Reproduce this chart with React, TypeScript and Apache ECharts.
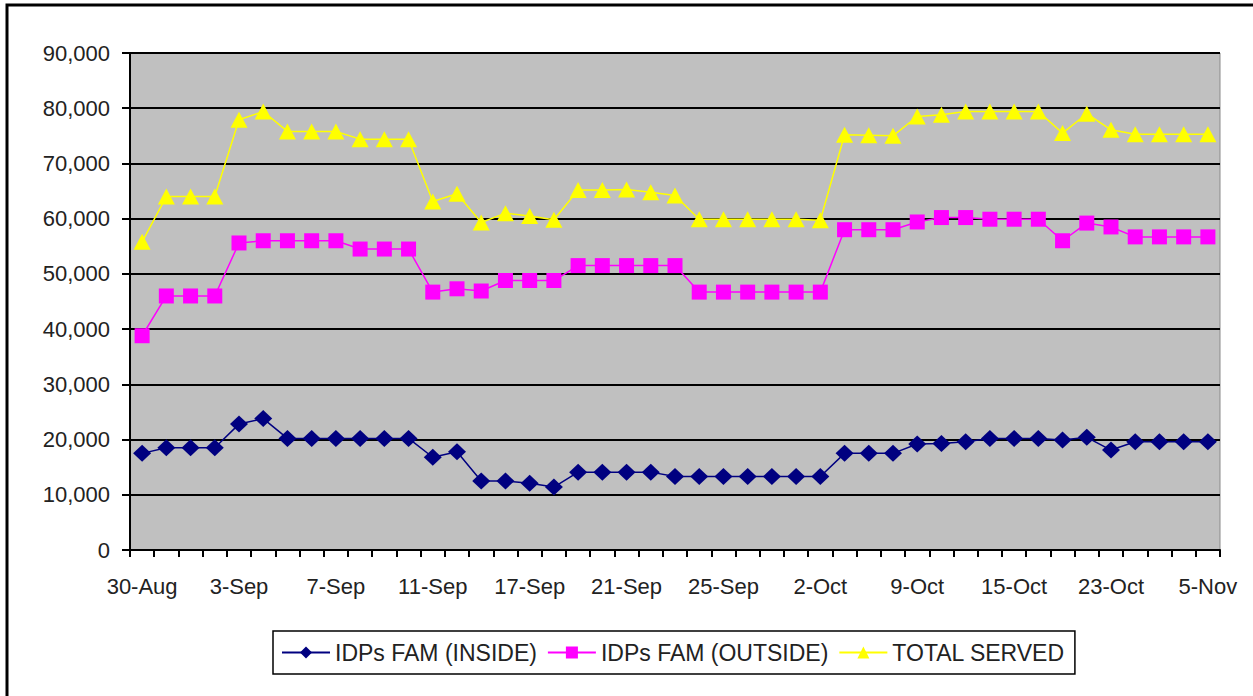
import React, { useEffect, useRef } from "react";
import * as echarts from "echarts";

const categories = [
  "30-Aug", "31-Aug", "1-Sep", "2-Sep", "3-Sep", "4-Sep", "5-Sep", "6-Sep", "7-Sep", "8-Sep",
  "9-Sep", "10-Sep", "11-Sep", "13-Sep", "14-Sep", "16-Sep", "17-Sep", "18-Sep", "19-Sep", "20-Sep",
  "21-Sep", "22-Sep", "23-Sep", "24-Sep", "25-Sep", "27-Sep", "28-Sep", "30-Sep", "2-Oct", "4-Oct",
  "5-Oct", "7-Oct", "9-Oct", "10-Oct", "12-Oct", "14-Oct", "15-Oct", "17-Oct", "19-Oct", "21-Oct",
  "23-Oct", "26-Oct", "29-Oct", "2-Nov", "5-Nov",
];

const inside = [
  17500, 18500, 18500, 18500, 22800, 23800, 20200, 20200, 20200, 20200,
  20200, 20200, 16800, 17800, 12500, 12500, 12100, 11400, 14100, 14100,
  14100, 14100, 13300, 13300, 13300, 13300, 13300, 13300, 13300, 17500,
  17500, 17500, 19200, 19300, 19600, 20200, 20200, 20200, 19900, 20400,
  18100, 19600, 19600, 19600, 19600,
];

const outside = [
  38800, 46000, 46000, 46000, 55600, 56000, 56000, 56000, 56000, 54500,
  54500, 54500, 46700, 47300, 46900, 48800, 48800, 48800, 51500, 51500,
  51500, 51500, 51500, 46700, 46700, 46700, 46700, 46700, 46700, 58000,
  58000, 58000, 59400, 60200, 60200, 59900, 59900, 59900, 56000, 59200,
  58500, 56700, 56700, 56700, 56700,
];

const total = [
  55800, 64000, 64000, 64000, 77900, 79400, 75800, 75800, 75800, 74400,
  74400, 74400, 63100, 64500, 59300, 61000, 60500, 59800, 65200, 65200,
  65300, 64800, 64200, 59900, 59900, 59900, 59900, 59900, 59700, 75200,
  75100, 75000, 78500, 78800, 79400, 79400, 79400, 79400, 75500, 79000,
  76100, 75300, 75300, 75300, 75300,
];

const seriesNames = ["IDPs FAM (INSIDE)", "IDPs FAM (OUTSIDE)", "TOTAL SERVED"];

const FONT = "'Liberation Sans', Arial, sans-serif";

export default function App() {
  const ref = useRef<HTMLDivElement>(null);
  useEffect(() => {
    if (!ref.current) return;
    const chart = echarts.init(ref.current, null, { renderer: "svg" });
    const fmt = (v: number) => v.toLocaleString("en-US");
    chart.setOption({
      animation: false,
      backgroundColor: "#ffffff",
      textStyle: { fontFamily: FONT },
      graphic: [
        {
          type: "rect",
          shape: { x: 7, y: 5, width: 1300, height: 760 },
          style: { fill: "none", stroke: "#000", lineWidth: 3 },
          silent: true,
          z: 100,
        },
      ],
      grid: {
        left: 130,
        top: 53,
        right: 33,
        bottom: 146,
        show: true,
        backgroundColor: "#C0C0C0",
        borderColor: "#8a8a8a",
        borderWidth: 1,
      },
      legend: {
        data: seriesNames,
        left: 273,
        top: 631,
        padding: [10, 10, 10, 8],
        itemGap: 10,
        itemWidth: 48,
        itemHeight: 15,
        borderColor: "#000",
        borderWidth: 1.5,
        textStyle: { fontSize: 23, color: "#222", fontFamily: FONT },
      },
      xAxis: {
        type: "category",
        data: categories,
        boundaryGap: true,
        axisLine: { lineStyle: { color: "#000", width: 2 } },
        axisTick: { show: true, interval: 0, length: 7, lineStyle: { color: "#000", width: 2 } },
        axisLabel: { interval: 3, margin: 25, fontSize: 22, color: "#222", fontFamily: FONT },
        splitLine: { show: false },
      },
      yAxis: {
        type: "value",
        min: 0,
        max: 90000,
        interval: 10000,
        axisLine: { show: true, lineStyle: { color: "#000", width: 2 } },
        axisTick: { show: true, length: 8, lineStyle: { color: "#000", width: 2 } },
        axisLabel: { formatter: fmt, margin: 20, fontSize: 22, color: "#222", fontFamily: FONT },
        splitLine: { show: true, lineStyle: { color: "#000", width: 2 } },
      },
      series: [
        {
          name: seriesNames[0],
          type: "line",
          data: inside,
          symbol: "diamond",
          symbolSize: [18, 17],
          showAllSymbol: true,
          itemStyle: { color: "#000080" },
          lineStyle: { color: "#000080", width: 1.5 },
        },
        {
          name: seriesNames[1],
          type: "line",
          data: outside,
          symbol: "rect",
          symbolSize: 15,
          showAllSymbol: true,
          itemStyle: { color: "#FF00FF" },
          lineStyle: { color: "#FF00FF", width: 1.5 },
        },
        {
          name: seriesNames[2],
          type: "line",
          data: total,
          symbol: "triangle",
          symbolSize: [17, 16],
          showAllSymbol: true,
          itemStyle: { color: "#FFFF00" },
          lineStyle: { color: "#FFFF00", width: 1.5 },
        },
      ],
    });
    return () => chart.dispose();
  }, []);
  return (
    <div
      ref={ref}
      style={{ position: "fixed", left: 0, top: 0, width: 1253, height: 696 }}
    />
  );
}
